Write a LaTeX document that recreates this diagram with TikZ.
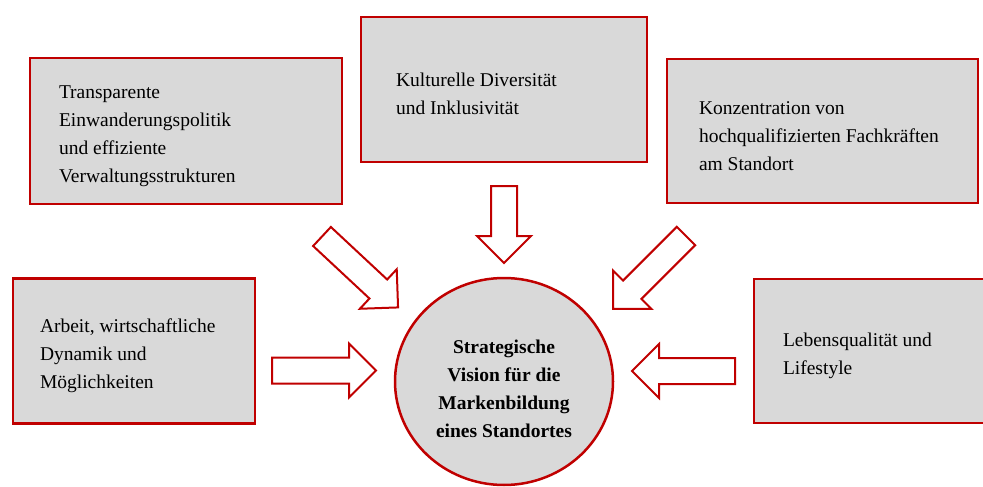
\documentclass[tikz,border=0pt]{standalone}
\usepackage{fontspec}
\setmainfont{Liberation Serif}
\usetikzlibrary{shapes.geometric,positioning}

\definecolor{frame}{RGB}{192,0,0}
\definecolor{panel}{RGB}{217,217,217}

\begin{document}
\begin{tikzpicture}[
    x=1pt, y=-1pt,
    factor/.style={
      draw=frame,
      fill=panel,
      line width=2.5pt,
      rectangle,
      align=flush left,
      text height=23pt,
      font=\fontsize{19.5}{28}\selectfont
      },
    vision/.style={
      draw=frame,
      fill=panel,
      line width=2.5pt,
      ellipse,
      align=center,
      inner sep=0pt,
      text height=113pt,
      font=\fontsize{19.5}{28}\selectfont\bfseries
      },
    blockarrow/.pic={
      \draw[draw=frame, fill=white, line width=2pt, line join=miter]
        (0,-13) -- (\len-27,-13) -- (\len-27,-27) -- (\len,0)
        -- (\len-27,27) -- (\len-27,13) -- (0,13) -- cycle;
      }
    ]
    \clip (0,0) rectangle (983,487);
    % arrows towards the vision
    \foreach \px/\py/\ang/\len in {322/236.5/-43/104, 504/186/-90/77, 686/236/-135/103,
                                   272/370.5/0/104, 735/371/180/103}
      \pic[rotate=\ang] at (\px,\py) {blockarrow};
    % the five factors
    \node[factor, minimum height=146pt, inner xsep=29pt, text width=254pt] (trans) at (186,131)
      {Transparente\\Einwanderungspolitik\\und effiziente\\Verwaltungsstrukturen};
    \node[factor, minimum height=145pt, inner xsep=35pt, text width=216pt] (kultur) at (504,89.5)
      {Kulturelle Diversität\\und Inklusivität};
    \node[factor, minimum height=144pt, inner xsep=32pt, text width=247pt] (konz) at (822.5,131)
      {Konzentration von\\hochqualifizierten Fachkräften\\am Standort};
    \node[factor, minimum height=145pt, inner xsep=27pt, text width=188pt] (arbeit) at (134,351)
      {Arbeit, wirtschaftliche\\Dynamik und\\Möglichkeiten};
    \node[factor, minimum height=144pt, inner xsep=29pt, text width=188pt] (leben) at (877,351)
      {Lebensqualität und\\Lifestyle};
    % the centre
    \node[vision, minimum width=218pt, minimum height=207pt] (vision) at (504,381.5)
      {Strategische\\Vision für die\\Markenbildung\\eines Standortes};
\end{tikzpicture}
\end{document}
